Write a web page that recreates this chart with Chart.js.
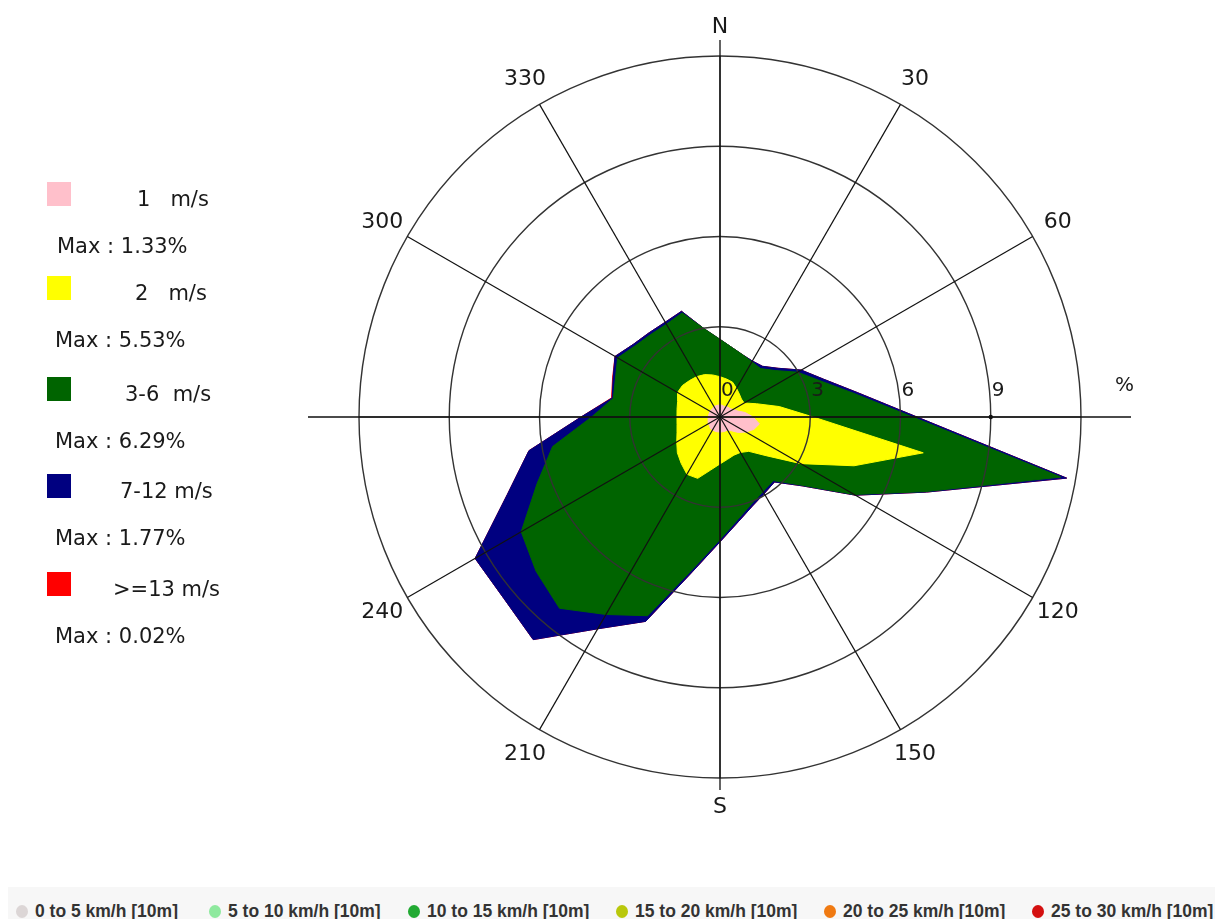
<!DOCTYPE html>
<html>
<head>
<meta charset="utf-8">
<script src="https://cdn.jsdelivr.net/npm/chart.js@4.4.1/dist/chart.umd.min.js"></script>
<style>
  html, body { margin:0; padding:0; background:#fff; width:1215px; height:919px; overflow:hidden; }
  body { position:relative; font-family:"DejaVu Sans", sans-serif; }
  #c { position:absolute; left:0; top:0; }
  .sw { position:absolute; left:47px; width:24px; height:24px; }
  .lb { position:absolute; font-size:21px; line-height:24px; white-space:pre; color:#1a1a1a; }
  #strip { position:absolute; left:8px; top:887px; width:1207px; height:32px; background:#f7f7f7; overflow:hidden; }
  .it { position:absolute; top:8px; height:32px; white-space:nowrap; font-family:"Liberation Sans", Arial, sans-serif; font-weight:bold; font-size:17.5px; line-height:32px; color:#333; }
  .dot { display:inline-block; width:12px; height:13px; border-radius:50%; vertical-align:-1px; margin-right:7px; }
</style>
</head>
<body>
<canvas id="c" width="1215" height="919"></canvas>
<div id="legend"></div>
<div id="strip"></div>
<script>
// ---- data (percent of time per direction and speed class) ----
const DIRECTIONS = [0,10,20,30,40,50,60,70,80,90,100,110,120,130,140,150,160,170,
                    180,190,200,210,220,230,240,250,260,270,280,290,300,310,320,330,340,350];
const SPEED_CLASSES = ['1   m/s', '2   m/s', '3-6  m/s', '7-12 m/s', '>=13 m/s'];
const CLASS_COLORS = ['#ffc0cb', '#ffff00', '#006400', '#000080', '#ff0000'];
const PINK   = [0.40,0.40,0.38,0.40,0.42,0.44,0.50,0.60,0.85,1.10,1.33,1.20,1.00,0.80,0.60,0.50,0.50,0.50,
                0.50,0.50,0.50,0.50,0.50,0.45,0.45,0.42,0.40,0.40,0.38,0.38,0.38,0.38,0.38,0.40,0.40,0.40];
const YELLOW = [0.94,0.88,0.85,0.70,0.58,0.49,0.43,0.69,1.15,2.00,5.53,3.54,2.10,1.20,0.89,0.86,0.85,0.93,
                1.06,1.29,1.67,1.70,1.51,1.40,1.21,1.10,1.05,1.03,1.07,1.12,1.25,1.25,1.20,1.15,1.10,1.02];
const GREEN  = [1.24,1.06,0.97,1.02,1.10,1.47,2.05,2.24,2.52,3.30,4.64,2.51,2.05,1.52,1.27,1.50,1.72,2.02,
                2.51,3.32,4.86,5.38,6.29,6.13,5.97,4.95,4.20,2.84,2.15,2.20,2.30,2.05,2.00,2.01,2.18,1.55];
const BLUE   = [0.00,0.00,0.00,0.03,0.10,0.12,0.14,0.14,0.13,0.15,0.20,0.05,0.05,0.04,0.06,0.08,0.08,0.08,
                0.08,0.10,0.20,0.55,1.36,1.40,1.77,1.05,0.80,0.35,0.04,0.08,0.10,0.08,0.08,0.08,0.06,0.00];
const RED    = [0,0,0,0,0,0,0,0,0,0,0,0,0,0,0,0,0,0,
                0,0,0,0,0,0,0,0,0,0,0.02,0.02,0,0,0,0,0,0];
const MAX_LABELS = ['Max : 1.33%', 'Max : 5.53%', 'Max : 6.29%', 'Max : 1.77%', 'Max : 0.02%'];
const COMPASS_LABELS = ['N','30','60','','120','150','S','210','240','','300','330']; // every 30 deg
const RING_TICKS = [0, 3, 6, 9];
const BOTTOM_ITEMS = ['0 to 5 km/h [10m]','5 to 10 km/h [10m]','10 to 15 km/h [10m]',
                      '15 to 20 km/h [10m]','20 to 25 km/h [10m]','25 to 30 km/h [10m]'];
const BOTTOM_COLORS = ['#dcd6d6','#8ee99e','#22aa33','#b9c80c','#f07a12','#d41010'];

// ---- cumulative stacks (innermost first, drawn on top) ----
const SERIES = [PINK, YELLOW, GREEN, BLUE, RED];
const cumul = [];
SERIES.forEach((s, k) => {
  cumul.push(s.map((v, i) => (k ? cumul[k - 1][i] : 0) + v));
});

// ---- left legend (HTML) ----
const legend = document.getElementById('legend');
const rowTop = [182, 276, 377, 474, 572];
const labLeft = [137, 135, 125, 120, 113];
SPEED_CLASSES.forEach((name, k) => {
  const sw = document.createElement('div');
  sw.className = 'sw'; sw.style.top = rowTop[k] + 'px'; sw.style.background = CLASS_COLORS[k];
  legend.appendChild(sw);
  const lb = document.createElement('div');
  lb.className = 'lb'; lb.textContent = name;
  lb.style.left = labLeft[k] + 'px'; lb.style.top = (rowTop[k] + 5) + 'px';
  legend.appendChild(lb);
  const mx = document.createElement('div');
  mx.className = 'lb'; mx.textContent = MAX_LABELS[k];
  mx.style.left = (k === 0 ? 57 : 55) + 'px'; mx.style.top = (rowTop[k] + 52) + 'px';
  legend.appendChild(mx);
});

// ---- bottom strip (HTML) ----
const strip = document.getElementById('strip');
const itemLeft = [16, 209, 408, 616, 824, 1032];
BOTTOM_ITEMS.forEach((t, k) => {
  const it = document.createElement('div');
  it.className = 'it'; it.style.left = (itemLeft[k] - 8) + 'px';
  const d = document.createElement('span');
  d.className = 'dot'; d.style.background = BOTTOM_COLORS[k];
  it.appendChild(d);
  it.appendChild(document.createTextNode(t));
  strip.appendChild(it);
});

// ---- extra drawing: long N-S / E-W axes, compass and ring labels ----
const extras = {
  id: 'extras',
  afterDraw(chart) {
    const s = chart.scales.r, ctx = chart.ctx;
    const cx = s.xCenter, cy = s.yCenter, R = s.drawingArea;
    const n = DIRECTIONS.length;
    ctx.save();
    ctx.strokeStyle = '#111'; ctx.lineWidth = 1.3;
    const ext = [[0, R + 16], [n / 4, R + 50], [n / 2, R + 12], [3 * n / 4, R + 51]];
    ctx.beginPath();
    ext.forEach(([i, r]) => { const p = s.getPointPosition(i, r); ctx.moveTo(cx, cy); ctx.lineTo(p.x, p.y); });
    ctx.stroke();
    // small marker dot where ring 9 meets the east axis
    const d9 = s.getPointPosition(n / 4, s.getDistanceFromCenterForValue(9));
    ctx.fillStyle = '#111';
    ctx.beginPath(); ctx.arc(d9.x, d9.y, 2.2, 0, Math.PI * 2); ctx.fill();
    ctx.font = '22px "DejaVu Sans"';
    ctx.fillStyle = '#1a1a1a';
    ctx.textAlign = 'center'; ctx.textBaseline = 'middle';
    COMPASS_LABELS.forEach((t, j) => {
      if (!t) return;
      const p = s.getPointPosition(j * 3, R + 29);
      ctx.fillText(t, p.x, p.y);
    });
    ctx.font = '20px "DejaVu Sans"';
    ctx.textAlign = 'left';
    RING_TICKS.forEach(v => {
      const x = cx + s.getDistanceFromCenterForValue(v);
      ctx.fillText(String(v), x + 1, cy - 26);
    });
    ctx.fillText('%', cx + R + 34, cy - 31);
    ctx.restore();
  }
};

new Chart(document.getElementById('c'), {
  type: 'radar',
  data: {
    labels: DIRECTIONS.map(String),
    datasets: cumul.map((arr, k) => ({
      label: SPEED_CLASSES[k],
      data: arr,
      fill: 'origin',
      backgroundColor: CLASS_COLORS[k],
      borderColor: CLASS_COLORS[k],
      borderWidth: 1,
      pointRadius: 0,
      tension: 0
    }))
  },
  options: {
    responsive: false,
    animation: false,
    devicePixelRatio: 1,
    layout: { padding: { left: 359, top: 56, right: 134, bottom: 141 } },
    plugins: { legend: { display: false }, tooltip: { enabled: false } },
    scales: {
      r: {
        min: 0, max: 12,
        ticks: { display: false, stepSize: 3 },
        pointLabels: { display: false },
        grid: { circular: true, color: '#333', lineWidth: 1.4, z: 1 },
        angleLines: {
          display: true,
          color: ctx => (ctx.index % 3 === 0 ? '#111' : 'rgba(0,0,0,0)'),
          lineWidth: 1.2
        }
      }
    }
  },
  plugins: [extras]
});
</script>
</body>
</html>
